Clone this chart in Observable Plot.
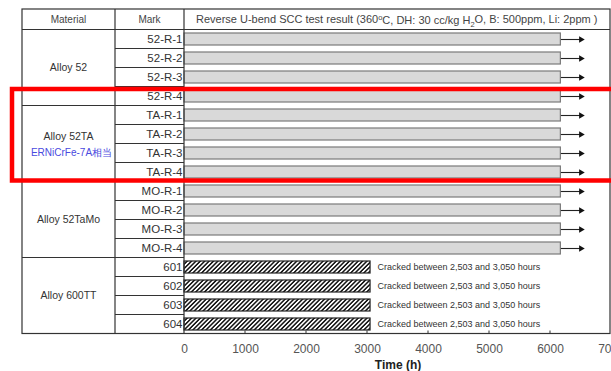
<!DOCTYPE html>
<html>
<head>
<meta charset="utf-8">
<script src="https://cdn.jsdelivr.net/npm/d3@7"></script>
<script src="https://cdn.jsdelivr.net/npm/@observablehq/plot@0.6"></script>
<style>
  body { margin: 0; background: #fff; }
  #chart svg { display: block; }
</style>
</head>
<body>
<div id="chart"></div>
<script>
// ---- data ----
const materials = ["Alloy 52", "Alloy 52TA", "Alloy 52TaMo", "Alloy 600TT"];
const materialNote = ["", "ERNiCrFe-7A相当", "", ""];
const marks = [
  "52-R-1", "52-R-2", "52-R-3", "52-R-4",
  "TA-R-1", "TA-R-2", "TA-R-3", "TA-R-4",
  "MO-R-1", "MO-R-2", "MO-R-3", "MO-R-4",
  "601", "602", "603", "604"
];
const markMaterial = [0,0,0,0, 1,1,1,1, 2,2,2,2, 3,3,3,3];
const hours = [6170,6170,6170,6170, 6170,6170,6170,6170, 6170,6170,6170,6170, 3050,3050,3050,3050];
const cracked = [false,false,false,false, false,false,false,false, false,false,false,false, true,true,true,true];
const arrowEnd = 6500;
const crackNote = "Cracked between 2,503 and 3,050 hours";
const xTicks = [0, 1000, 2000, 3000, 4000, 5000, 6000, 7000];
const headerMaterial = "Material";
const headerMark = "Mark";
const xLabel = "Time (h)";

const rows = marks.map((m, i) => ({mark: m, hours: hours[i], cracked: cracked[i], material: materials[markMaterial[i]]}));
const ongoing = rows.filter(d => !d.cracked);
const crackedRows = rows.filter(d => d.cracked);

const FONT = "'Liberation Sans', Arial, Helvetica, sans-serif";
const W = 611, H = 371;
const colMaterial = 22, colMark = 115, colPlot = 184, rightEdge = 610, topEdge = 9;

const plot = Plot.plot({
  width: W,
  height: H,
  marginLeft: colPlot,
  marginRight: 0,
  marginTop: 29,
  marginBottom: 38,
  style: {fontFamily: FONT, background: "#fff", color: "#333", overflow: "hidden"},
  x: {domain: [0, 7000]},
  y: {domain: marks, paddingInner: 0.38, paddingOuter: 0.19},
  marks: [
    Plot.barX(ongoing, {x1: 0, x2: "hours", y: "mark", fill: "#d9d9d9", stroke: "#7a7a7a", strokeWidth: 1.2}),
    Plot.barX(crackedRows, {x1: 0, x2: "hours", y: "mark", fill: "url(#hatch)", stroke: "#222", strokeWidth: 1.2}),
    Plot.link(ongoing, {x1: "hours", x2: () => arrowEnd, y1: "mark", y2: "mark", stroke: "#222", strokeWidth: 1.1}),
    Plot.dot(ongoing, {x: () => arrowEnd, y: "mark", symbol: "triangle", rotate: 90, r: 2.4, fill: "#111", stroke: "none"}),
    Plot.text(crackedRows, {x: "hours", y: "mark", text: () => crackNote, dx: 7, textAnchor: "start", fontSize: 9, fill: "#333"}),
    Plot.axisY({tickSize: 0, tickPadding: 2, fontSize: 11.5, label: null, fill: "#333"}),
    Plot.axisX({ticks: xTicks, tickFormat: d => String(d), tickSize: 0, tickPadding: 11, fontSize: 12, fill: "#555", label: xLabel, labelAnchor: "center", labelOffset: 35, labelArrow: "none"})
  ]
});

document.getElementById("chart").appendChild(plot);

// ---- overlay: table structure, using the plot's scales ----
const svg = d3.select(plot);
const ys = plot.scale("y"), xs = plot.scale("x");
const step = ys.step, bw = ys.bandwidth;
const rowTop = m => ys.apply(m) - (step - bw) / 2;
const rowBottom = m => rowTop(m) + step;
const bottomEdge = rowBottom(marks[marks.length - 1]);
const headerBottom = rowTop(marks[0]);

// hatch pattern
const defs = svg.insert("defs", ":first-child");
const pat = defs.append("pattern").attr("id", "hatch").attr("patternUnits", "userSpaceOnUse")
  .attr("width", 3.1).attr("height", 3.1).attr("patternTransform", "rotate(45)");
pat.append("rect").attr("width", 3.1).attr("height", 3.1).attr("fill", "#fff");
pat.append("line").attr("x1", 0.8).attr("y1", 0).attr("x2", 0.8).attr("y2", 3.1).attr("stroke", "#111").attr("stroke-width", 1.5);

const g = svg.append("g").attr("fill", "none").attr("stroke", "#333").attr("stroke-width", 1.2);
// outer border
g.append("rect").attr("x", colMaterial).attr("y", topEdge).attr("width", rightEdge - colMaterial).attr("height", bottomEdge - topEdge);
// header line
g.append("line").attr("x1", colMaterial).attr("x2", rightEdge).attr("y1", headerBottom).attr("y2", headerBottom);
// column lines
[colMark, colPlot].forEach(cx => g.append("line").attr("x1", cx).attr("x2", cx).attr("y1", topEdge).attr("y2", bottomEdge));
// row lines in mark column and group lines across material column
marks.forEach((m, i) => {
  if (i === 0) return;
  const yy = rowTop(m);
  const groupBreak = markMaterial[i] !== markMaterial[i - 1];
  g.append("line").attr("x1", groupBreak ? colMaterial : colMark).attr("x2", colPlot).attr("y1", yy).attr("y2", yy);
});
// small inward ticks on x axis
xTicks.forEach(t => {
  const px = xs.apply(t);
  if (px > colPlot + 1 && px < rightEdge) g.append("line").attr("x1", px).attr("x2", px).attr("y1", bottomEdge).attr("y2", bottomEdge - 3).attr("stroke-width", 1);
});

// header text
const tg = svg.append("g").attr("font-family", FONT).attr("fill", "#444");
const headerY = (topEdge + headerBottom) / 2;
tg.append("text").attr("x", (colMaterial + colMark) / 2).attr("y", headerY).attr("dy", "0.35em").attr("text-anchor", "middle").attr("font-size", 10).text(headerMaterial);
tg.append("text").attr("x", (colMark + colPlot) / 2).attr("y", headerY).attr("dy", "0.35em").attr("text-anchor", "middle").attr("font-size", 10).text(headerMark);
const hr = tg.append("text").attr("x", colPlot + 12).attr("y", headerY).attr("dy", "0.35em").attr("text-anchor", "start").attr("font-size", 11);
hr.append("tspan").text("Reverse U-bend SCC test result (360");
hr.append("tspan").attr("dy", "-0.35em").attr("font-size", 7.5).text("o");
hr.append("tspan").attr("dy", "0.35em").text("C, DH: 30 cc/kg H");
hr.append("tspan").attr("dy", "0.3em").attr("font-size", 7.5).text("2");
hr.append("tspan").attr("dy", "-0.3em").text("O, B: 500ppm, Li: 2ppm )");

// material labels
materials.forEach((mat, k) => {
  const ms = marks.filter((m, i) => markMaterial[i] === k);
  const cy = (rowTop(ms[0]) + rowBottom(ms[ms.length - 1])) / 2;
  const cx = (colMaterial + colMark) / 2;
  if (materialNote[k]) {
    tg.append("text").attr("x", cx).attr("y", cy - 7).attr("dy", "0.35em").attr("text-anchor", "middle").attr("font-size", 10.5).attr("fill", "#333").text(mat);
    tg.append("text").attr("x", cx + 3).attr("y", cy + 9).attr("dy", "0.35em").attr("text-anchor", "middle").attr("font-size", 10).attr("fill", "#4a4ae0").text(materialNote[k]);
  } else {
    tg.append("text").attr("x", cx).attr("y", cy).attr("dy", "0.35em").attr("text-anchor", "middle").attr("font-size", 10.5).attr("fill", "#333").text(mat);
  }
});

// red highlight annotation
const redTop = ys.apply("52-R-4") - 1;
const redBottom = ys.apply("TA-R-4") + bw + 2.5;
svg.append("rect").attr("x", 12).attr("y", redTop).attr("width", W + 20).attr("height", redBottom - redTop)
  .attr("fill", "none").attr("stroke", "#ff0000").attr("stroke-width", 4.5);

// bold axis label
svg.selectAll("g[aria-label='x-axis label'] text").attr("font-weight", "bold").attr("fill", "#222");
</script>
</body>
</html>
